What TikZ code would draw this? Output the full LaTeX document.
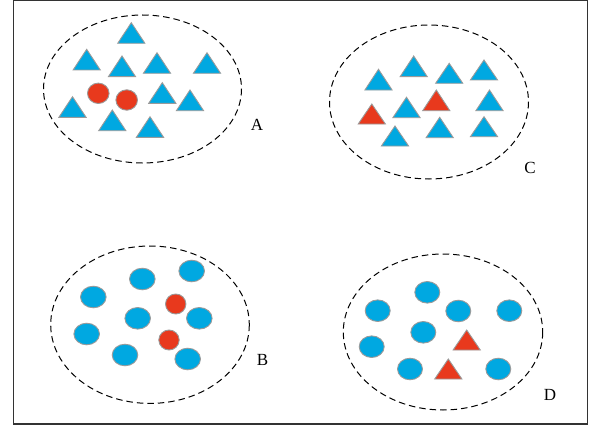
\documentclass[tikz,border=0pt]{standalone}
\usepackage{fontspec}
\setmainfont{Liberation Serif}
\definecolor{cblue}{HTML}{00A8E1}
\definecolor{cred}{HTML}{E8391D}
\definecolor{cedge}{HTML}{9A9A9A}
\tikzset{
  grp/.style={draw=black, line width=1pt, dash pattern=on 6.5pt off 4pt},
  shp/.style={draw=cedge, line width=0.9pt},
  lbl/.style={font=\fontsize{17}{17}\selectfont, inner sep=0pt},
}
\newcommand\mytri[4]{\path[shp, fill=#4] (#1,#2) -- (#1-13.6,#3) -- (#1+13.6,#3) -- cycle;}
\newcommand\mydisc[5]{\path[shp, fill=#5] (#1,#2) ellipse [x radius=#3, y radius=#4];}
\begin{document}
\begin{tikzpicture}[x=1pt,y=-1pt]
\useasboundingbox (0,0) rectangle (589,428);
\draw[line width=1.3pt, draw=black!80] (13.5,0.7) rectangle (587.7,424);
% group A
\draw[grp] (142.5,89) ellipse [x radius=99, y radius=74];
\node[lbl] (la) at (257,124.5) {A};
\mytri{131.3}{22.7}{43.3}{cblue}
\mytri{86.7}{49.3}{70}{cblue}
\mytri{122}{56}{76.7}{cblue}
\mytri{157}{52.7}{73.3}{cblue}
\mytri{207}{52.7}{73.3}{cblue}
\mytri{162.3}{82.7}{103.3}{cblue}
\mytri{190}{90}{110.7}{cblue}
\mytri{72.5}{96.7}{117.3}{cblue}
\mytri{112.3}{110}{130.7}{cblue}
\mytri{150}{116.7}{137.3}{cblue}
\mydisc{98.3}{93.3}{10.8}{10.2}{cred}
\mydisc{126.7}{100}{10.8}{10.2}{cred}
% group C
\draw[grp] (429,102) ellipse [x radius=99.5, y radius=77];
\node[lbl] (lc) at (530,168) {C};
\mytri{378.5}{69.3}{90}{cblue}
\mytri{413.7}{56}{76.7}{cblue}
\mytri{449.2}{63.3}{83.3}{cblue}
\mytri{484}{60}{80}{cblue}
\mytri{371.8}{104}{124}{cred}
\mytri{406.5}{97.3}{117.7}{cblue}
\mytri{436.3}{90}{110.7}{cred}
\mytri{489.5}{90}{110.7}{cblue}
\mytri{395}{126}{146}{cblue}
\mytri{439.7}{117.3}{137.7}{cblue}
\mytri{484}{116.7}{136.7}{cblue}
% group B
\draw[grp] (150,324.7) ellipse [x radius=99.3, y radius=78.7];
\node[lbl] (lb) at (262.5,360) {B};
\mydisc{142.3}{279}{12.8}{10.8}{cblue}
\mydisc{191.7}{271}{12.8}{10.8}{cblue}
\mydisc{93.3}{297}{12.8}{10.8}{cblue}
\mydisc{175.7}{304}{10.2}{10}{cred}
\mydisc{137.7}{318.3}{12.8}{10.8}{cblue}
\mydisc{199.3}{318.3}{12.8}{10.8}{cblue}
\mydisc{86.7}{334}{12.8}{10.8}{cblue}
\mydisc{169}{340}{10.2}{10}{cred}
\mydisc{125}{355}{12.8}{10.8}{cblue}
\mydisc{187.7}{359}{12.8}{10.8}{cblue}
% group D
\draw[grp] (443,332) ellipse [x radius=99.7, y radius=78];
\node[lbl] (ld) at (550,395) {D};
\mydisc{427.3}{292.3}{12.5}{10.8}{cblue}
\mydisc{377.7}{310.7}{12.5}{10.8}{cblue}
\mydisc{458.3}{311}{12.5}{10.8}{cblue}
\mydisc{509.3}{310.7}{12.5}{10.8}{cblue}
\mydisc{423.3}{332.3}{12.5}{10.8}{cblue}
\mydisc{371.7}{346.7}{12.5}{10.8}{cblue}
\mydisc{410}{369}{12.5}{10.8}{cblue}
\mydisc{498.3}{369}{12.5}{10.8}{cblue}
\mytri{466.7}{330}{350}{cred}
\mytri{448.3}{359}{379}{cred}
\end{tikzpicture}
\end{document}
